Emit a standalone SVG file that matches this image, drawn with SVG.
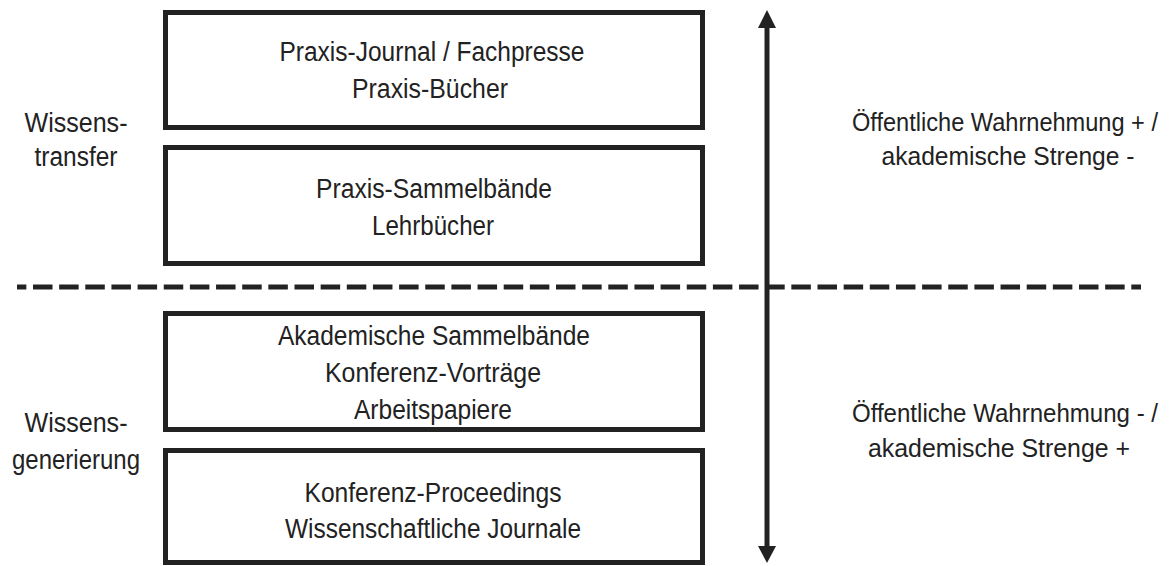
<svg xmlns="http://www.w3.org/2000/svg" width="1175" height="566" viewBox="0 0 1175 566">
<style>
.box{fill:#fff;stroke:#222;stroke-width:5}
.t{font-family:"Liberation Sans",Arial,sans-serif;font-size:27px;fill:#222;text-anchor:middle}
.r{font-size:25px}
.ln{stroke:#222;stroke-width:5;fill:none}
</style>
<rect width="1175" height="566" fill="#fff"/>
<g id="connectors">
<line class="ln" x1="17" y1="287" x2="1141" y2="287" stroke-dasharray="19.5 6.65" stroke-dashoffset="10.15"/>
<line class="ln" x1="767" y1="26" x2="767" y2="548"/>
<polygon points="767,10 758,28 776,28" fill="#222"/>
<polygon points="767,563 758,546 776,546" fill="#222"/>
</g>
<g id="box1">
<rect class="box" x="165.5" y="12.5" width="537" height="115"/>
<text class="t" x="432" y="61" textLength="305" lengthAdjust="spacingAndGlyphs">Praxis-Journal / Fachpresse</text>
<text class="t" x="430" y="98" textLength="156" lengthAdjust="spacingAndGlyphs">Praxis-Bücher</text>
</g>
<g id="box2">
<rect class="box" x="165.5" y="147.5" width="537" height="116"/>
<text class="t" x="434" y="198" textLength="236" lengthAdjust="spacingAndGlyphs">Praxis-Sammelbände</text>
<text class="t" x="433" y="235" textLength="122" lengthAdjust="spacingAndGlyphs">Lehrbücher</text>
</g>
<g id="box3">
<rect class="box" x="165.5" y="313.5" width="537" height="116"/>
<text class="t" x="434" y="345" textLength="312" lengthAdjust="spacingAndGlyphs">Akademische Sammelbände</text>
<text class="t" x="433" y="382" textLength="216" lengthAdjust="spacingAndGlyphs">Konferenz-Vorträge</text>
<text class="t" x="433" y="419" textLength="158" lengthAdjust="spacingAndGlyphs">Arbeitspapiere</text>
</g>
<g id="box4">
<rect class="box" x="165.5" y="450.5" width="537" height="112"/>
<text class="t" x="433" y="502" textLength="257" lengthAdjust="spacingAndGlyphs">Konferenz-Proceedings</text>
<text class="t" x="433" y="538" textLength="296" lengthAdjust="spacingAndGlyphs">Wissenschaftliche Journale</text>
</g>
<g id="label-transfer">
<text class="t" x="76" y="132" textLength="103" lengthAdjust="spacingAndGlyphs">Wissens-</text>
<text class="t" x="76" y="166" textLength="83" lengthAdjust="spacingAndGlyphs">transfer</text>
</g>
<g id="label-generierung">
<text class="t" x="76" y="432" textLength="103" lengthAdjust="spacingAndGlyphs">Wissens-</text>
<text class="t" x="76" y="469" textLength="128" lengthAdjust="spacingAndGlyphs">generierung</text>
</g>
<g id="label-top-right">
<text class="t r" x="1005" y="131" textLength="306" lengthAdjust="spacingAndGlyphs">Öffentliche Wahrnehmung + /</text>
<text class="t r" x="1008" y="165" textLength="253" lengthAdjust="spacingAndGlyphs">akademische Strenge -</text>
</g>
<g id="label-bottom-right">
<text class="t r" x="1005" y="422" textLength="306" lengthAdjust="spacingAndGlyphs">Öffentliche Wahrnehmung - /</text>
<text class="t r" x="999" y="457" textLength="262" lengthAdjust="spacingAndGlyphs">akademische Strenge +</text>
</g>
</svg>
